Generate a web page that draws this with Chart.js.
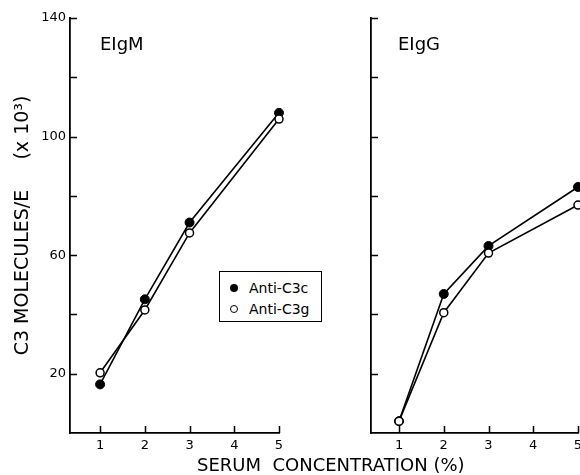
<!DOCTYPE html>
<html>
<head>
<meta charset="utf-8">
<script src="https://cdn.jsdelivr.net/npm/chart.js@4"></script>
<style>
  html, body { margin: 0; padding: 0; background: #fff; overflow: hidden; }
  #wrap { position: relative; width: 580px; height: 475px; overflow: hidden; font-family: "DejaVu Sans", sans-serif; color: #000; }
  #c1 { position: absolute; left: 0; top: 0; }
  #c2 { position: absolute; left: 300px; top: 0; }
  .lbl { position: absolute; white-space: pre; font-size: 18px; line-height: 18px; }
  #legend { position: absolute; left: 219px; top: 271px; width: 101px; height: 49px; border: 1.5px solid #000; background: #fff; font-size: 14px; }
  .row { position: absolute; left: 0; height: 16px; line-height: 16px; }
  .mk { position: absolute; left: 10px; top: 4px; width: 8px; height: 8px; border-radius: 50%; box-sizing: border-box; }
  .txt { position: absolute; left: 29px; top: 0; white-space: pre; }
</style>
</head>
<body>
<div id="wrap">
  <canvas id="c1" width="300" height="475"></canvas>
  <canvas id="c2" width="292" height="475"></canvas>
  <div class="lbl" style="left:100px; top:35px;">EIgM</div>
  <div class="lbl" style="left:398px; top:35px;">EIgG</div>
  <div class="lbl" id="xt" style="left:197px; top:456px;">SERUM  CONCENTRATION (%)</div>
  <div id="legend">
    <div class="row" style="top:8px;"><div class="mk" style="background:#000;"></div><div class="txt">Anti-C3c</div></div>
    <div class="row" style="top:29px;"><div class="mk" style="border:1.5px solid #000; background:#fff;"></div><div class="txt">Anti-C3g</div></div>
  </div>
</div>
<script>
// ---- data ----
const concentrations = [1, 2, 3, 5];
const igmAntiC3c = [16.4, 45.1, 71.0, 108.0];
const igmAntiC3g = [20.3, 41.5, 67.5, 105.9];
const iggAntiC3c = [4.0, 46.9, 63.1, 83.0];
const iggAntiC3g = [4.0, 40.6, 60.7, 76.9];
const xTicks = [1, 2, 3, 4, 5];
const yTicks = [20, 40, 60, 80, 100, 120, 140];
const yLabeled = [20, 60, 100, 140];
const seriesNames = ['Anti-C3c', 'Anti-C3g'];
const yTitle = 'C3 MOLECULES/E     (x 10\u00B3)';

const pts = (ys) => concentrations.map((x, i) => ({ x: x, y: ys[i] }));

const innerTicks = {
  id: 'innerTicks',
  afterDraw(chart) {
    const ctx = chart.ctx, a = chart.chartArea;
    const xs = chart.scales.x, ys = chart.scales.y;
    ctx.save();
    ctx.strokeStyle = '#000';
    ctx.lineWidth = 1.5;
    ctx.beginPath();
    yTicks.forEach(v => {
      const py = Math.round(ys.getPixelForValue(v)) + 0.5;
      ctx.moveTo(a.left, py); ctx.lineTo(a.left + 7, py);
    });
    xTicks.forEach(v => {
      const px = Math.round(xs.getPixelForValue(v)) + 0.5;
      ctx.moveTo(px, a.bottom); ctx.lineTo(px, a.bottom - 7);
    });
    ctx.stroke();
    ctx.restore();
  }
};

function makeChart(id, c3c, c3g, opts) {
  return new Chart(document.getElementById(id), {
    type: 'line',
    data: {
      datasets: [
        { label: seriesNames[0], data: pts(c3c), borderColor: '#000', borderWidth: 1.6,
          pointRadius: 4.5, pointBackgroundColor: '#000', pointBorderColor: '#000', pointBorderWidth: 1,
          tension: 0, clip: false, order: 1 },
        { label: seriesNames[1], data: pts(c3g), borderColor: '#000', borderWidth: 1.6,
          pointRadius: 4, pointBackgroundColor: '#fff', pointBorderColor: '#000', pointBorderWidth: 1.5,
          tension: 0, clip: false, order: 0 }
      ]
    },
    options: {
      responsive: false,
      animation: false,
      events: [],
      layout: { padding: opts.padding },
      plugins: { legend: { display: false }, tooltip: { enabled: false }, title: { display: false } },
      scales: {
        x: {
          type: 'linear', min: opts.xmin, max: 5,
          afterBuildTicks: (s) => { s.ticks = xTicks.map(v => ({ value: v })); },
          afterFit: (s) => { s.height = 42; s.paddingLeft = 0; s.paddingRight = 0; },
          grid: { display: false, drawTicks: false },
          border: { display: true, color: '#000', width: 1.8 },
          ticks: { color: '#000', padding: 5, font: { family: 'DejaVu Sans', size: 13 } }
        },
        y: {
          type: 'linear', min: 0, max: 140,
          afterBuildTicks: (s) => { s.ticks = yTicks.map(v => ({ value: v })); },
          afterFit: (s) => { s.width = opts.yWidth; },
          grid: { display: false, drawTicks: false },
          border: { display: true, color: '#000', width: 1.8 },
          ticks: { display: opts.yLabels, color: '#000', padding: 4,
                   font: { family: 'DejaVu Sans', size: 13 },
                   callback: (v) => yLabeled.includes(v) ? String(v) : '' },
          title: { display: opts.yLabels, text: yTitle, color: '#000',
                   font: { family: 'DejaVu Sans', size: 19 }, padding: { top: 12, bottom: 0 } }
        }
      }
    },
    plugins: [innerTicks]
  });
}

makeChart('c1', igmAntiC3c, igmAntiC3g, { padding: { top: 18, right: 21, left: 0, bottom: 0 }, xmin: 0.327, yWidth: 70, yLabels: true });
makeChart('c2', iggAntiC3c, iggAntiC3g, { padding: { top: 18, right: 14, left: 0, bottom: 0 }, xmin: 0.374, yWidth: 71, yLabels: false });
</script>
</body>
</html>
